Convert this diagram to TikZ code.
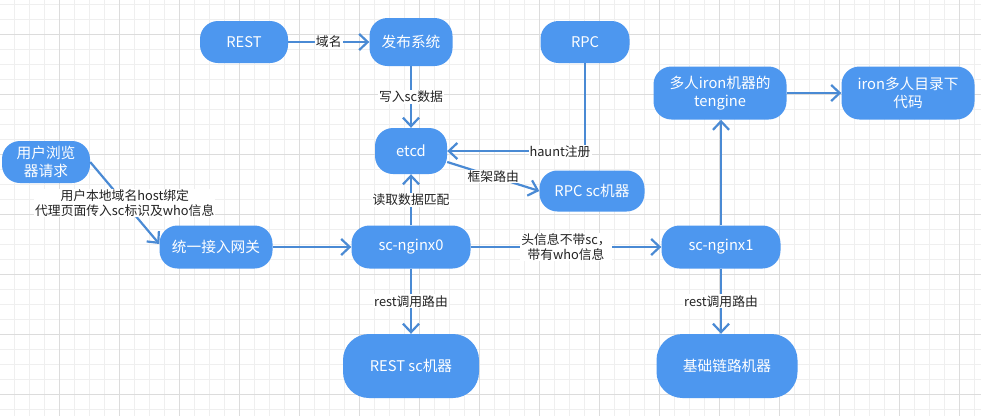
\documentclass[tikz,border=0pt]{standalone}
\usepackage{fontspec}
\setmainfont{Noto Sans CJK SC}
\usetikzlibrary{arrows.meta}
\definecolor{nodeblue}{HTML}{4D97EF}
\definecolor{edgeblue}{HTML}{4A8AD4}
\definecolor{gridminor}{HTML}{EFEFEF}
\definecolor{gridmajor}{HTML}{DCDCDC}
\definecolor{lbltext}{HTML}{222222}
\begin{document}
\begin{tikzpicture}[x=1pt,y=-1pt,
  box/.style={fill=nodeblue, text=white, rounded corners=18pt, font=\fontsize{14.7}{18.5}\selectfont, align=center, inner sep=0pt},
  conn/.style={draw=edgeblue, line width=2.2pt, -{Straight Barb[length=8.5pt,width=16pt,line width=2.2pt]}},
  lbl/.style={fill=white, text=lbltext, font=\fontsize{12.8}{15}\selectfont, inner sep=1pt, align=center},
  gmin/.style={draw=gridminor, line width=0.8pt},
  gmaj/.style={draw=gridmajor, line width=0.8pt}]
\fill[white] (0,0) rectangle (981,416);
\useasboundingbox (0,0) rectangle (981,416);
\foreach \x in {14,29,...,974} \draw[gmin] (\x,0) -- (\x,416);
\foreach \y in {4,19,...,409} \draw[gmin] (0,\y) -- (981,\y);
\foreach \x in {59,119,...,959} \draw[gmaj] (\x,0) -- (\x,416);
\foreach \y in {34,94,...,394} \draw[gmaj] (0,\y) -- (981,\y);

\node[box, minimum width=88, minimum height=42] (rest) at (244,42) {REST};
\node[box, minimum width=83, minimum height=48] (pub) at (411,42) {发布系统};
\node[box, minimum width=72, minimum height=46] (etcd) at (411,151) {etcd};
\node[box, minimum width=89, minimum height=42] (rpc) at (585,42) {RPC};
\node[box, minimum width=133, minimum height=53] (teng) at (720,93) {多人iron机器的\\tengine};
\node[box, minimum width=133, minimum height=53] (iron) at (908,93) {iron多人目录下\\代码};
\node[box, minimum width=105, minimum height=41] (rpcsc) at (592,191) {RPC sc机器};
\node[box, minimum width=88, minimum height=42] (user) at (46,162) {用户浏览\\器请求};
\node[box, minimum width=113, minimum height=43] (gw) at (216,247) {统一接入网关};
\node[box, minimum width=119, minimum height=43] (ng0) at (411,247) {sc-nginx0};
\node[box, minimum width=136, minimum height=64, rounded corners=26pt] (restsc) at (411,366) {REST sc机器};
\node[box, minimum width=119, minimum height=43] (ng1) at (721,247) {sc-nginx1};
\node[box, minimum width=141, minimum height=64, rounded corners=26pt] (jc) at (727,366) {基础链路机器};

\coordinate (rpcturn) at (585,151);

\draw[conn] (rest) -- node[lbl]{域名} (pub);
\draw[conn] (pub) -- node[lbl]{写入sc数据} (etcd);
\draw[conn] (rpc.south) -- (rpcturn) -- (etcd.east);
\node[lbl] (haunt) at (560,152) {haunt注册};
\draw[conn] ([yshift=-11pt]etcd.east) -- node[lbl]{框架路由} (rpcsc.west);
\draw[conn] (ng0) -- node[lbl]{读取数据匹配} (etcd);
\draw[conn] (user.east) -- node[lbl]{用户本地域名host绑定\\代理页面传入sc标识及who信息} ([yshift=3pt]gw.west);
\draw[conn] (gw) -- (ng0);
\draw[conn] (ng0) -- node[lbl]{头信息不带sc，\\带有who信息} (ng1);
\draw[conn] (ng0) -- node[lbl]{rest调用路由} (restsc);
\draw[conn] (ng1.north) -- (ng1.north |- teng.south);
\draw[conn] (teng) -- (iron);
\draw[conn] (ng1.south) -- node[lbl]{rest调用路由} (ng1.south |- jc.north);
\end{tikzpicture}
\end{document}
